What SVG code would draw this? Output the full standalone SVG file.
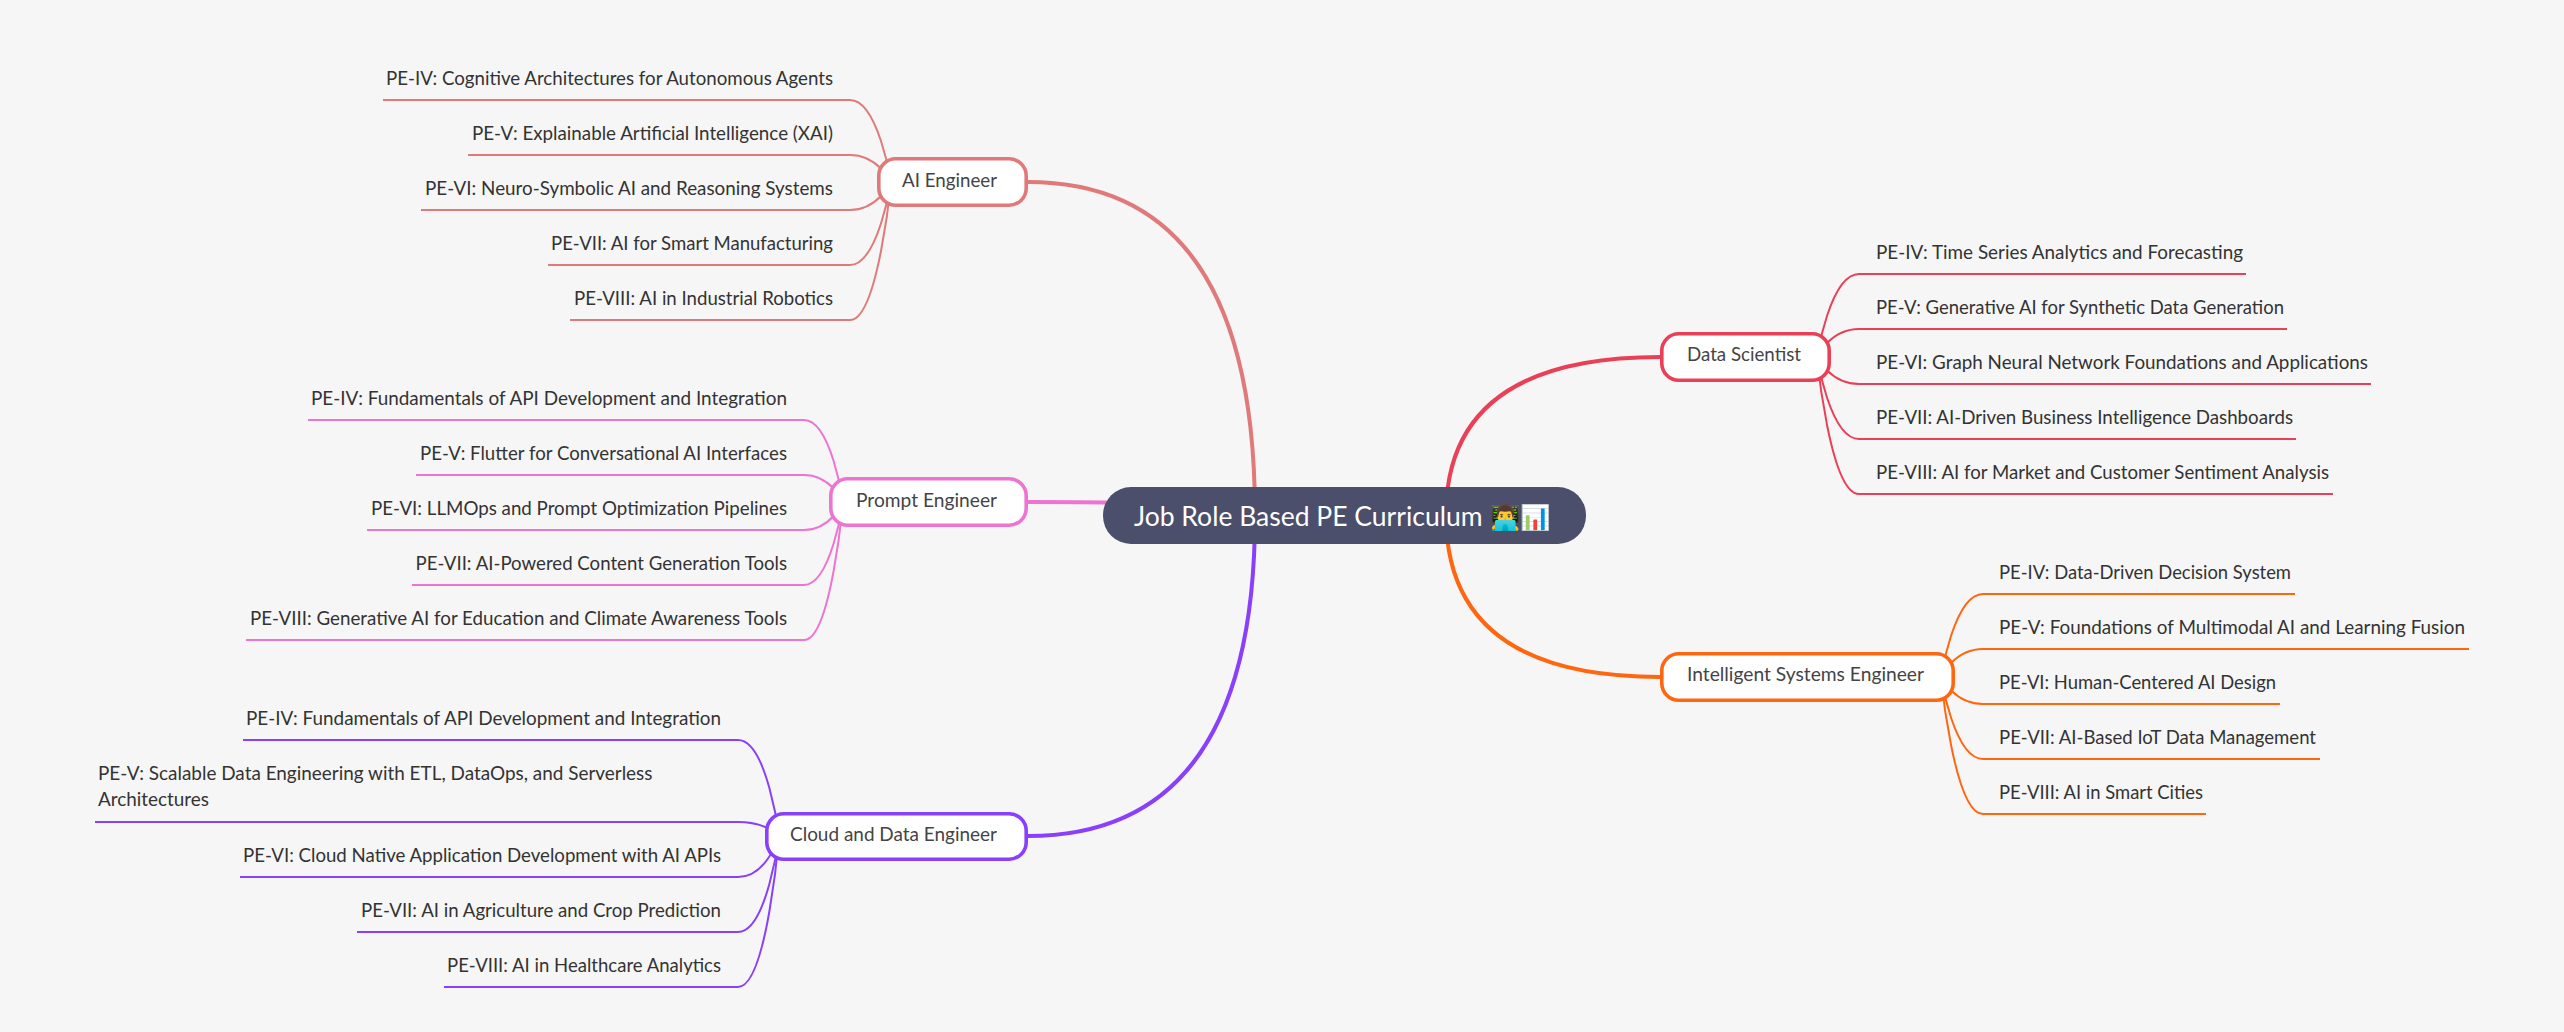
<svg xmlns="http://www.w3.org/2000/svg" width="2564" height="1032" viewBox="0 0 2564 1032">
<style>
text{font-family:"Lato","Noto Sans",sans-serif}
.l{font-size:20px;fill:#333}
.n{font-size:20px;fill:#444446}
.c{fill:none}
.m{stroke-width:4}
.s{stroke-width:2}
.a{stroke:#e07a7a}.p{stroke:#ed74d0}.u{stroke:#8a3ffc}.d{stroke:#e94057}.o{stroke:#ff6610}
.b{fill:#fff;stroke-width:3.6}
</style>
<rect width="2564" height="1032" fill="#f6f6f6"/>
<g id="connectors" class="c">
<path class="m a" d="M1255 515Q1255 182 1028 182"/>
<path class="m p" d="M1255 515Q1255 502 1028 502"/>
<path class="m u" d="M1255 515Q1255 836 1028 836"/>
<path class="m d" d="M1446 515Q1446 357 1660 357"/>
<path class="m o" d="M1446 515Q1446 677 1660 677"/>
<g class="s a">
<path d="M891 182C891 182 878 100 850 100H383"/>
<path d="M891 182C891 182 878 155 850 155H468"/>
<path d="M891 182C891 182 878 210 850 210H421"/>
<path d="M891 182C891 182 878 265 850 265H548"/>
<path d="M891 182C891 182 878 320 850 320H570"/>
</g>
<g class="s p">
<path d="M843 502C843 502 831 420 804 420H308"/>
<path d="M843 502C843 502 831 475 804 475H416"/>
<path d="M843 502C843 502 831 530 804 530H367"/>
<path d="M843 502C843 502 831 585 804 585H412"/>
<path d="M843 502C843 502 831 640 804 640H246"/>
</g>
<g class="s u">
<path d="M779 836C779 836 767 740 738 740H243"/>
<path d="M779 836C779 836 767 822 738 822H95"/>
<path d="M779 836C779 836 767 877 738 877H240"/>
<path d="M779 836C779 836 767 932 738 932H357"/>
<path d="M779 836C779 836 767 987 738 987H444"/>
</g>
<g class="s d">
<path d="M1817 357C1817 357 1830 274 1859 274H2246"/>
<path d="M1817 357C1817 357 1830 329 1859 329H2287"/>
<path d="M1817 357C1817 357 1830 384 1859 384H2371"/>
<path d="M1817 357C1817 357 1830 439 1859 439H2296"/>
<path d="M1817 357C1817 357 1830 494 1859 494H2333"/>
</g>
<g class="s o">
<path d="M1941 677C1941 677 1954 594 1983 594H2295"/>
<path d="M1941 677C1941 677 1954 649 1983 649H2469"/>
<path d="M1941 677C1941 677 1954 704 1983 704H2280"/>
<path d="M1941 677C1941 677 1954 759 1983 759H2320"/>
<path d="M1941 677C1941 677 1954 814 1983 814H2206"/>
</g>
</g>
<g id="root">
<rect x="1103" y="487" width="483" height="57" rx="28" fill="#4c4f6b"/>
<text x="1134" y="526" font-size="27" fill="#fff" textLength="348.5" lengthAdjust="spacingAndGlyphs">Job Role Based PE Curriculum</text>
<text x="1490" y="526" font-size="24.5" fill="#fff" style="font-family:'Noto Color Emoji','Noto Sans',sans-serif">👨‍💻📊</text>
</g>
<g id="ai-engineer"><rect class="b a" x="878.8" y="158.8" width="147.4" height="46.4" rx="17"/><text class="n" x="902" y="187" textLength="95" lengthAdjust="spacingAndGlyphs">AI Engineer</text></g>
<g id="ai-1"><text class="l" x="386" y="85" textLength="447" lengthAdjust="spacingAndGlyphs">PE-IV: Cognitive Architectures for Autonomous Agents</text></g>
<g id="ai-2"><text class="l" x="472" y="140" textLength="361" lengthAdjust="spacingAndGlyphs">PE-V: Explainable Artificial Intelligence (XAI)</text></g>
<g id="ai-3"><text class="l" x="425" y="195" textLength="408" lengthAdjust="spacingAndGlyphs">PE-VI: Neuro-Symbolic AI and Reasoning Systems</text></g>
<g id="ai-4"><text class="l" x="551" y="250" textLength="282" lengthAdjust="spacingAndGlyphs">PE-VII: AI for Smart Manufacturing</text></g>
<g id="ai-5"><text class="l" x="574" y="305" textLength="259" lengthAdjust="spacingAndGlyphs">PE-VIII: AI in Industrial Robotics</text></g>
<g id="prompt-engineer"><rect class="b p" x="830.8" y="478.8" width="195.4" height="46.4" rx="17"/><text class="n" x="856" y="507" textLength="141" lengthAdjust="spacingAndGlyphs">Prompt Engineer</text></g>
<g id="pr-1"><text class="l" x="311" y="405" textLength="476" lengthAdjust="spacingAndGlyphs">PE-IV: Fundamentals of API Development and Integration</text></g>
<g id="pr-2"><text class="l" x="420" y="460" textLength="367" lengthAdjust="spacingAndGlyphs">PE-V: Flutter for Conversational AI Interfaces</text></g>
<g id="pr-3"><text class="l" x="371" y="515" textLength="416" lengthAdjust="spacingAndGlyphs">PE-VI: LLMOps and Prompt Optimization Pipelines</text></g>
<g id="pr-4"><text class="l" x="415.5" y="570" textLength="371.5" lengthAdjust="spacingAndGlyphs">PE-VII: AI-Powered Content Generation Tools</text></g>
<g id="pr-5"><text class="l" x="250" y="625" textLength="537" lengthAdjust="spacingAndGlyphs">PE-VIII: Generative AI for Education and Climate Awareness Tools</text></g>
<g id="cloud-engineer"><rect class="b u" x="766.8" y="813.8" width="259.4" height="45.4" rx="17"/><text class="n" x="790" y="841" textLength="207" lengthAdjust="spacingAndGlyphs">Cloud and Data Engineer</text></g>
<g id="cl-1"><text class="l" x="246" y="725" textLength="475" lengthAdjust="spacingAndGlyphs">PE-IV: Fundamentals of API Development and Integration</text></g>
<g id="cl-2"><text class="l" x="98" y="780" textLength="554.5" lengthAdjust="spacingAndGlyphs">PE-V: Scalable Data Engineering with ETL, DataOps, and Serverless</text><text class="l" x="98" y="806" textLength="111" lengthAdjust="spacingAndGlyphs">Architectures</text></g>
<g id="cl-3"><text class="l" x="243" y="862" textLength="478" lengthAdjust="spacingAndGlyphs">PE-VI: Cloud Native Application Development with AI APIs</text></g>
<g id="cl-4"><text class="l" x="361" y="917" textLength="360" lengthAdjust="spacingAndGlyphs">PE-VII: AI in Agriculture and Crop Prediction</text></g>
<g id="cl-5"><text class="l" x="447" y="972" textLength="274" lengthAdjust="spacingAndGlyphs">PE-VIII: AI in Healthcare Analytics</text></g>
<g id="data-scientist"><rect class="b d" x="1661.8" y="333.8" width="167.4" height="46.4" rx="17"/><text class="n" x="1687" y="361" textLength="114" lengthAdjust="spacingAndGlyphs">Data Scientist</text></g>
<g id="ds-1"><text class="l" x="1876" y="259" textLength="367" lengthAdjust="spacingAndGlyphs">PE-IV: Time Series Analytics and Forecasting</text></g>
<g id="ds-2"><text class="l" x="1876" y="314" textLength="408" lengthAdjust="spacingAndGlyphs">PE-V: Generative AI for Synthetic Data Generation</text></g>
<g id="ds-3"><text class="l" x="1876" y="369" textLength="492" lengthAdjust="spacingAndGlyphs">PE-VI: Graph Neural Network Foundations and Applications</text></g>
<g id="ds-4"><text class="l" x="1876" y="424" textLength="417" lengthAdjust="spacingAndGlyphs">PE-VII: AI-Driven Business Intelligence Dashboards</text></g>
<g id="ds-5"><text class="l" x="1876" y="479" textLength="453" lengthAdjust="spacingAndGlyphs">PE-VIII: AI for Market and Customer Sentiment Analysis</text></g>
<g id="intelligent-systems"><rect class="b o" x="1661.8" y="653.8" width="291.4" height="46.4" rx="17"/><text class="n" x="1687" y="681" textLength="237" lengthAdjust="spacingAndGlyphs">Intelligent Systems Engineer</text></g>
<g id="is-1"><text class="l" x="1999" y="579" textLength="292" lengthAdjust="spacingAndGlyphs">PE-IV: Data-Driven Decision System</text></g>
<g id="is-2"><text class="l" x="1999" y="634" textLength="466" lengthAdjust="spacingAndGlyphs">PE-V: Foundations of Multimodal AI and Learning Fusion</text></g>
<g id="is-3"><text class="l" x="1999" y="689" textLength="277" lengthAdjust="spacingAndGlyphs">PE-VI: Human-Centered AI Design</text></g>
<g id="is-4"><text class="l" x="1999" y="744" textLength="317" lengthAdjust="spacingAndGlyphs">PE-VII: AI-Based IoT Data Management</text></g>
<g id="is-5"><text class="l" x="1999" y="799" textLength="204" lengthAdjust="spacingAndGlyphs">PE-VIII: AI in Smart Cities</text></g>
</svg>
